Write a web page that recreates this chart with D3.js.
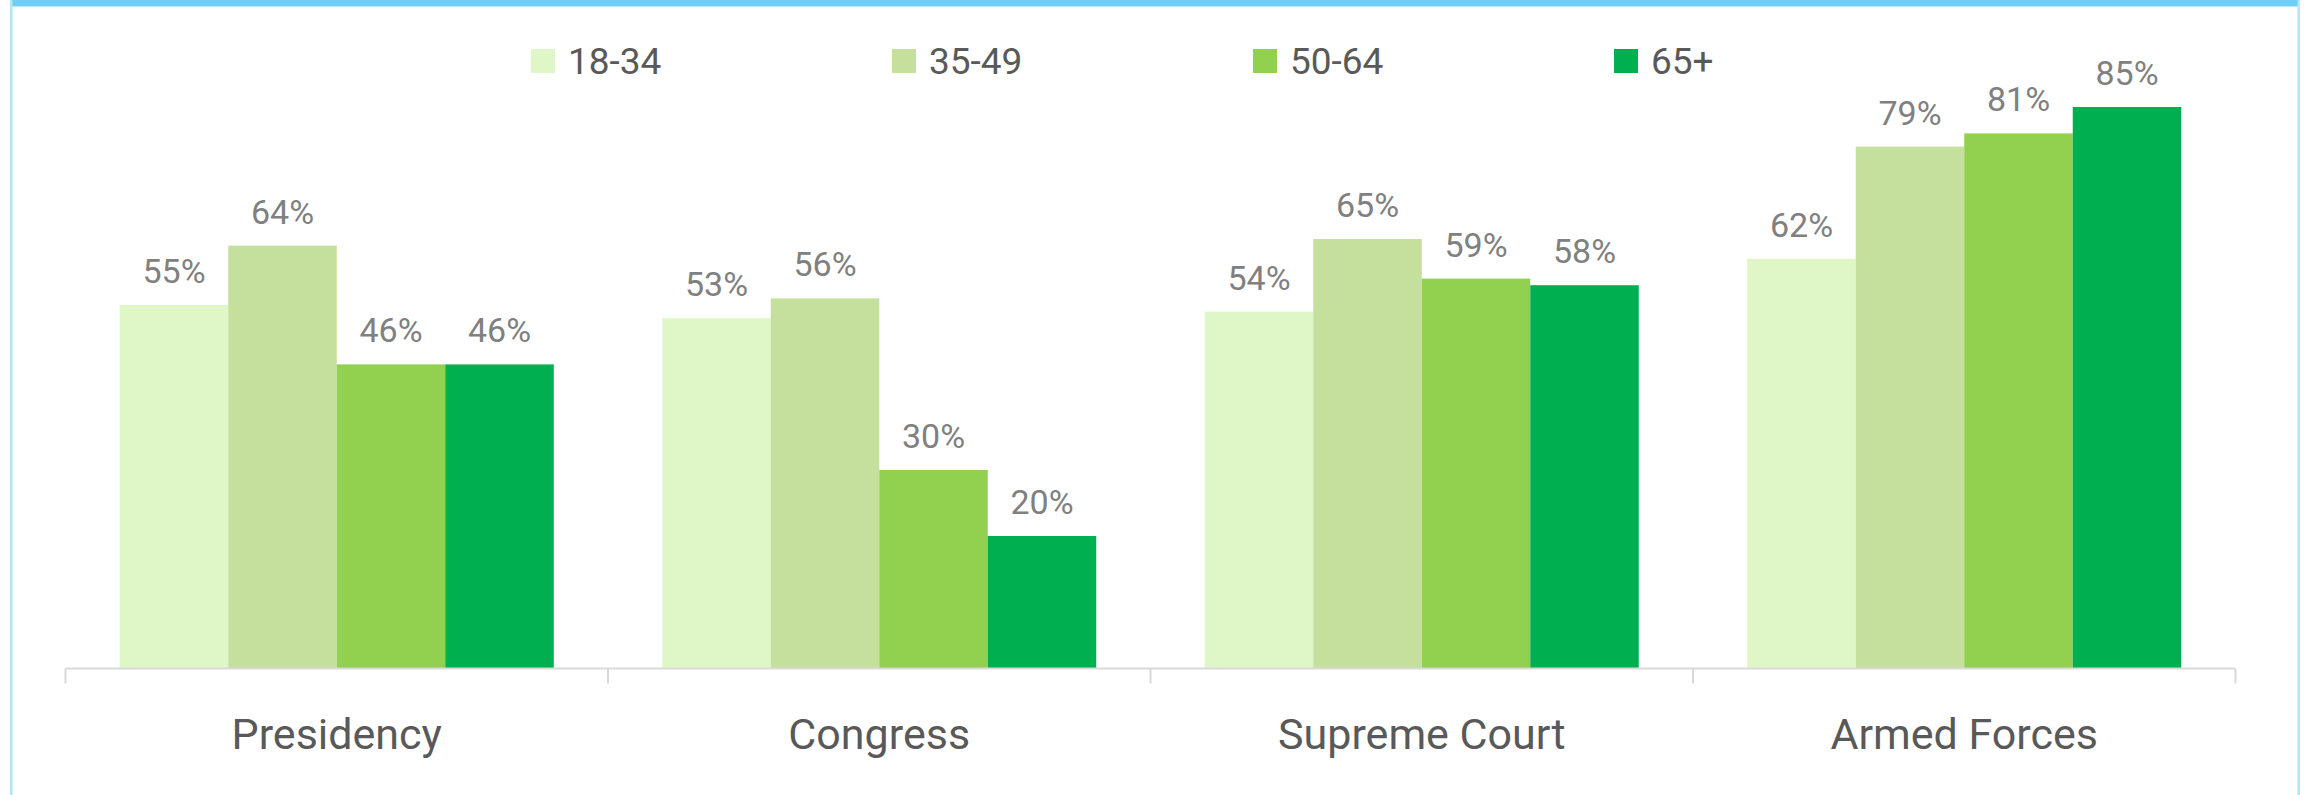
<!DOCTYPE html>
<html>
<head>
<meta charset="utf-8">
<script src="https://cdn.jsdelivr.net/npm/d3@7"></script>
<style>
  html, body { margin: 0; padding: 0; background: #ffffff; }
  svg { display: block; }
</style>
</head>
<body>
<svg id="chart" width="2308" height="795"></svg>
<script>
const categories = ["Presidency", "Congress", "Supreme Court", "Armed Forces"];
const seriesNames = ["18-34", "35-49", "50-64", "65+"];
const values_18_34 = [0.55, 0.53, 0.54, 0.62];
const values_35_49 = [0.64, 0.56, 0.65, 0.79];
const values_50_64 = [0.46, 0.30, 0.59, 0.81];
const values_65plus = [0.46, 0.20, 0.58, 0.85];
const seriesColors = ["#dff7c6", "#c5df9c", "#92d050", "#00b050"];

const seriesValues = [values_18_34, values_35_49, values_50_64, values_65plus];
const W = 2308, H = 795;
const svg = d3.select("#chart");
const fontFamily = "Roboto, 'Noto Sans', sans-serif";

// frame
svg.append("rect").attr("x", 10).attr("y", 0).attr("width", 2290).attr("height", 6).attr("fill", "#6dcff6");
svg.append("rect").attr("x", 12).attr("y", 6).attr("width", 2286).attr("height", 1).attr("fill", "#b9e9fb");
svg.append("rect").attr("x", 10).attr("y", 0).attr("width", 2.5).attr("height", H).attr("fill", "#aee6fb");
svg.append("rect").attr("x", 2297.5).attr("y", 0).attr("width", 2.5).attr("height", H).attr("fill", "#aee6fb");

const plotLeft = 65.5, plotRight = 2235.5, baseY = 668, topY = 8;

const x0 = d3.scaleBand().domain(categories).range([plotLeft, plotRight]).paddingInner(0).paddingOuter(0);
const groupPad = x0.bandwidth() / 10;
const x1 = d3.scaleBand().domain(seriesNames).range([groupPad, x0.bandwidth() - groupPad]).padding(0);
const y = d3.scaleLinear().domain([0, 1]).range([baseY, topY]);

const data = [];
categories.forEach((c, ci) => {
  seriesNames.forEach((s, si) => {
    data.push({ cat: c, series: s, si: si, v: seriesValues[si][ci] });
  });
});

svg.append("g").selectAll("rect").data(data).join("rect")
  .attr("x", d => x0(d.cat) + x1(d.series))
  .attr("y", d => y(d.v))
  .attr("width", x1.bandwidth())
  .attr("height", d => y(0) - y(d.v))
  .attr("fill", d => seriesColors[d.si]);

svg.append("g").selectAll("text").data(data).join("text")
  .attr("x", d => x0(d.cat) + x1(d.series) + x1.bandwidth() / 2)
  .attr("y", d => y(d.v) - 22)
  .attr("text-anchor", "middle")
  .attr("font-family", fontFamily)
  .attr("font-size", 34)
  .attr("fill", "#808080")
  .text(d => Math.round(d.v * 100) + "%");

// x axis
const xAxis = d3.axisBottom(x0).tickSize(0).tickFormat("");
const axisG = svg.append("g").attr("transform", `translate(0,${baseY + 0.5})`).call(xAxis);
axisG.select(".domain").attr("stroke", "#d9d9d9").attr("stroke-width", 2).attr("d", `M${plotLeft},0H${plotRight}`);
const tickPositions = categories.map(c => x0(c)).concat([plotRight]);
axisG.selectAll(".sep").data(tickPositions).join("line")
  .attr("class", "sep")
  .attr("x1", d => d).attr("x2", d => d)
  .attr("y1", 0).attr("y2", 15)
  .attr("stroke", "#d9d9d9").attr("stroke-width", 2);

svg.append("g").selectAll("text").data(categories).join("text")
  .attr("x", d => x0(d) + x0.bandwidth() / 2)
  .attr("y", 749)
  .attr("text-anchor", "middle")
  .attr("font-family", fontFamily)
  .attr("font-size", 43)
  .attr("fill", "#595959")
  .text(d => d);

// legend
const legendStart = 531, legendStep = 361;
const legend = svg.append("g").selectAll("g").data(seriesNames).join("g")
  .attr("transform", (d, i) => `translate(${legendStart + i * legendStep},49)`);
legend.append("rect").attr("width", 24).attr("height", 24).attr("fill", (d, i) => seriesColors[i]);
legend.append("text")
  .attr("x", 37).attr("y", 25)
  .attr("font-family", fontFamily)
  .attr("font-size", 37)
  .attr("fill", "#595959")
  .text(d => d);
</script>
</body>
</html>
